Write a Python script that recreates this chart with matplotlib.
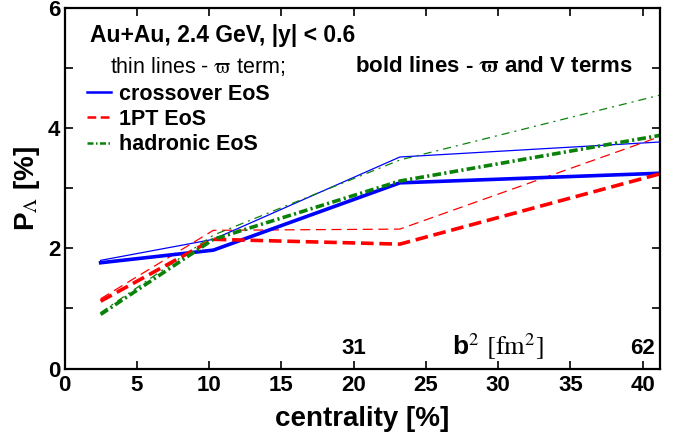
import matplotlib
matplotlib.use("Agg")
import matplotlib.pyplot as plt
from matplotlib.lines import Line2D
from matplotlib.ticker import MultipleLocator, FuncFormatter

plt.rcParams['font.family'] = ['Liberation Sans', 'DejaVu Sans']
plt.rcParams['mathtext.fontset'] = 'stix'

# centrality bins [%]
centrality = [2.5, 10.3, 23.2, 41.2]
# thin lines - vorticity term only
cross_thin = [1.80, 2.15, 3.52, 3.77]
pt1_thin = [1.16, 2.30, 2.32, 3.86]
hadr_thin = [0.93, 2.22, 3.47, 4.55]
# bold lines - vorticity and V terms
cross_bold = [1.76, 1.97, 3.09, 3.25]
pt1_bold = [1.12, 2.15, 2.07, 3.24]
hadr_bold = [0.90, 2.15, 3.12, 3.88]

# b^2 scale labels
b2_pos = [20, 40]
b2_labels = ["31", "62"]

blue = "#0000ff"
red = "#ff0000"
green = "#0a820a"

fig = plt.figure(figsize=(6.84, 4.36), dpi=100)
ax = fig.add_axes([64.5 / 684, 67.5 / 436, 595.5 / 684, 360.5 / 436])

ax.plot(centrality, cross_thin, color=blue, lw=0.9)
ax.plot(centrality, pt1_thin, color=red, lw=0.9, ls=(0, (8, 4.5)))
ax.plot(centrality, hadr_thin, color=green, lw=0.9, ls=(0, (6.5, 4, 1.6, 4)))

ax.plot(centrality, cross_bold, color=blue, lw=2.6)
ax.plot(centrality, pt1_bold, color=red, lw=2.6, ls=(0, (3.5, 1.6)))
ax.plot(centrality, hadr_bold, color=green, lw=2.6, ls=(0, (2.4, 0.9, 0.6, 0.9)))

ax.set_xlim(0, 41.2)
ax.set_ylim(0, 6)
ax.xaxis.set_major_locator(MultipleLocator(5))
ax.yaxis.set_major_locator(MultipleLocator(1))
ax.yaxis.set_major_formatter(FuncFormatter(lambda v, p: f"{v:.0f}" if v % 2 == 0 else ""))
ax.tick_params(direction="in", top=True, right=True, length=6, width=1.2,
               labelsize=16)
ax.tick_params(axis="x", pad=5)
ax.tick_params(axis="y", pad=3)
for lab in ax.get_xticklabels() + ax.get_yticklabels():
    lab.set_fontweight("bold")
for s in ax.spines.values():
    s.set_linewidth(1.6)

ax.set_xlabel("centrality [%]", fontsize=20, fontweight="bold", labelpad=7)
ax.set_ylabel(r"P$_{\Lambda}$ [%]", fontsize=20, fontweight="bold", labelpad=4)

# annotations
ax.text(0.043, 0.925, "Au+Au, 2.4 GeV, |y| < 0.6", transform=ax.transAxes,
        fontsize=16.5, fontweight="bold", va="center")
ax.text(0.076, 0.838, r"thin lines - $\mathrm{\varpi}$ term;", transform=ax.transAxes,
        fontsize=15.5, va="center")
ax.text(0.488, 0.838, r"bold lines - $\mathbf{\varpi}$ and V terms", transform=ax.transAxes,
        fontsize=16, fontweight="bold", va="center")

handles = [
    Line2D([], [], color=blue, lw=1.8),
    Line2D([], [], color=red, lw=1.8, ls=(0, (3.5, 1.8))),
    Line2D([], [], color=green, lw=1.8, ls=(0, (2.4, 1.0, 0.6, 1.0))),
]
leg = ax.legend(handles, ["crossover EoS", "1PT EoS", "hadronic EoS"],
                loc="upper left", bbox_to_anchor=(0.038, 0.79), frameon=False,
                prop={"size": 15.5, "weight": "bold"}, handlelength=1.1,
                handletextpad=0.4, labelspacing=0.2, borderaxespad=0.0,
                borderpad=0.0)

for xp, lab in zip(b2_pos, b2_labels):
    ax.text(xp, 0.34, lab, ha="center", va="center", fontsize=16, fontweight="bold")
ax.text(30, 0.36, r"b$^{2}$ $\mathrm{[fm^2]}$", ha="center", va="center",
        fontsize=19, fontweight="bold")

fig.savefig("out.png", dpi=100)
